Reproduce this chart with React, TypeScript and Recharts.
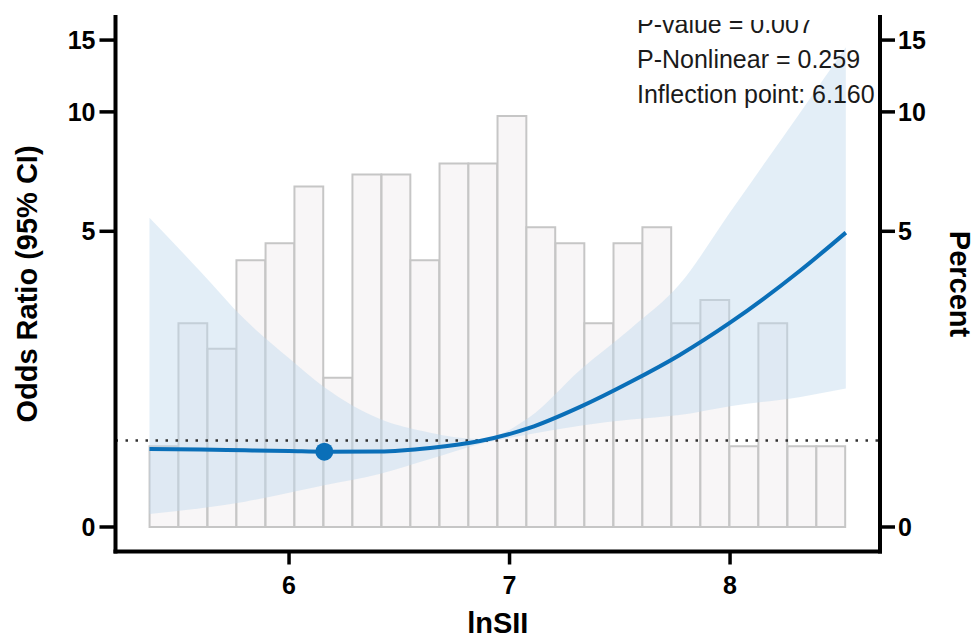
import { ComposedChart, Bar, Area, Line, XAxis, YAxis, ReferenceLine, ReferenceDot, Label } from 'recharts'

// histogram of lnSII (bin midpoints) and share of participants in each bin, %
const BIN_MID = [
  5.433, 5.564, 5.696, 5.827, 5.959, 6.09, 6.222, 6.353, 6.485, 6.616, 6.748, 6.879,
  7.011, 7.142, 7.274, 7.405, 7.537, 7.668, 7.8, 7.931, 8.063, 8.194, 8.326, 8.457,
]
const PERCENT = [
  0.93, 2.79, 2.33, 4.19, 4.65, 6.51, 1.86, 6.98, 6.98, 4.19, 7.44, 7.44,
  9.77, 5.12, 4.65, 2.79, 4.65, 5.12, 2.79, 3.26, 0.93, 2.79, 0.93, 0.93,
]

// restricted cubic spline: OR with 95% CI
const CURVE_X = [5.367, 5.6, 5.8, 6.0, 6.16, 6.41, 6.64, 6.866, 7.09, 7.32, 7.55, 7.77, 8.0, 8.32, 8.525]
const OR = [0.897, 0.89, 0.88, 0.872, 0.864, 0.866, 0.909, 0.995, 1.16, 1.44, 1.8, 2.22, 2.8, 3.94, 4.96]
const LOWER = [0.145, 0.209, 0.283, 0.384, 0.469, 0.6, 0.776, 0.958, 1.08, 1.19, 1.27, 1.33, 1.45, 1.58, 1.7]
const UPPER = [5.42, 3.9, 2.86, 2.17, 1.72, 1.28, 1.1, 1.02, 1.3, 1.98, 2.69, 3.6, 5.6, 10.0, 14.4]

const INFLECTION_X = 6.16
const INFLECTION_OR = 0.864

const X_TICKS = [6, 7, 8]
const Y_TICKS = [0, 5, 10, 15]

// pseudo-log axis (sigma = 1), like scales::pseudo_log_trans
const tr = (v: number) => Math.asinh(v / 2)
const untr = (t: number) => 2 * Math.sinh(t)

const X_DOMAIN: [number, number] = [5.213, 8.68]
const Y_DOMAIN: [number, number] = [-0.1365, 2.841]

const FONT = '"Liberation Sans", Arial, Helvetica, sans-serif'
const BLUE = '#0a6fb8'

const bins = BIN_MID.map((x, i) => ({ x, pct: PERCENT[i] }))
const curve = CURVE_X.map((x, i) => ({ x, or: OR[i], lo: LOWER[i], hi: UPPER[i] }))

const axisLine = { stroke: '#000', strokeWidth: 4, strokeLinecap: 'square' as const }
const tickLine = { stroke: '#000', strokeWidth: 3.5 }
const tickFont = { fill: '#000', fontSize: 25, fontWeight: 700, fontFamily: FONT }
const titleStyle = { fill: '#000', fontSize: 29, fontWeight: 700, fontFamily: FONT }

export default function App() {
  return (
    <div style={{ position: 'absolute', left: 0, top: 0, width: 972, height: 637, background: '#fff' }}>
      <ComposedChart
        width={972}
        height={637}
        data={bins}
        barCategoryGap={0}
        barGap={0}
        margin={{ top: 17, right: 32, bottom: 55.5, left: 55.5 }}
      >
        <XAxis
          dataKey="x"
          type="number"
          domain={X_DOMAIN}
          allowDataOverflow
          ticks={X_TICKS}
          interval={0}
          height={30}
          tickSize={13}
          tickMargin={12}
          axisLine={axisLine}
          tickLine={tickLine}
          tick={tickFont}
        >
          <Label
            content={() => (
              <text x={497.75} y={633} textAnchor="middle" style={titleStyle}>
                lnSII
              </text>
            )}
          />
        </XAxis>
        {/* own axis for the histogram so the bar width comes from the bin spacing */}
        <XAxis xAxisId="bins" dataKey="x" type="number" domain={X_DOMAIN} allowDataOverflow hide />
        <XAxis
          xAxisId="top"
          orientation="top"
          type="number"
          domain={X_DOMAIN}
          allowDataOverflow
          height={0}
          tick={false}
          tickLine={false}
          axisLine={axisLine}
        />
        <YAxis
          yAxisId="or"
          type="number"
          domain={Y_DOMAIN}
          allowDataOverflow
          ticks={Y_TICKS.map(tr)}
          interval={0}
          tickFormatter={(t: number) => String(Math.round(untr(t)))}
          width={60}
          tickSize={16}
          tickMargin={4}
          axisLine={axisLine}
          tickLine={tickLine}
          tick={tickFont}
        >
          <Label
            content={() => (
              <text x={37} y={284} textAnchor="middle" transform="rotate(-90 37 284)" style={titleStyle}>
                Odds Ratio (95% CI)
              </text>
            )}
          />
        </YAxis>
        <YAxis
          yAxisId="pct"
          orientation="right"
          type="number"
          domain={Y_DOMAIN}
          allowDataOverflow
          ticks={Y_TICKS.map(tr)}
          interval={0}
          tickFormatter={(t: number) => String(Math.round(untr(t)))}
          width={60}
          tickSize={15}
          tickMargin={3}
          axisLine={axisLine}
          tickLine={tickLine}
          tick={tickFont}
        >
          <Label
            content={() => (
              <text x={950} y={284} textAnchor="middle" transform="rotate(90 950 284)" style={titleStyle}>
                Percent
              </text>
            )}
          />
        </YAxis>

        <Bar
          xAxisId="bins"
          yAxisId="pct"
          dataKey={(d: { pct: number }) => tr(d.pct)}
          barSize={28.8}
          fill="#f8f6f7"
          stroke="#c6c6c6"
          strokeWidth={2}
          isAnimationActive={false}
          zIndex={50}
        />
        <Area
          yAxisId="or"
          data={curve}
          dataKey={(d: { lo: number; hi: number }) => [tr(d.lo), tr(d.hi)]}
          type="monotone"
          stroke="none"
          fill="#c2daee"
          fillOpacity={0.45}
          isAnimationActive={false}
          zIndex={100}
        />
        <ReferenceLine
          yAxisId="or"
          y={tr(1)}
          stroke="#333"
          strokeWidth={2.5}
          strokeDasharray="2.5 7.5"
          zIndex={150}
        />
        <Line
          yAxisId="or"
          data={curve}
          dataKey={(d: { or: number }) => tr(d.or)}
          type="monotone"
          stroke={BLUE}
          strokeWidth={4}
          dot={false}
          activeDot={false}
          isAnimationActive={false}
          zIndex={400}
        />
        <ReferenceDot
          yAxisId="or"
          x={INFLECTION_X}
          y={tr(INFLECTION_OR)}
          r={9}
          fill={BLUE}
          stroke="none"
          zIndex={450}
        />
      </ComposedChart>

      {/* statistics text, clipped by the panel border like in the original */}
      <div style={{ position: 'absolute', left: 117, top: 19.5, width: 761, height: 110, overflow: 'hidden' }}>
        <svg width={761} height={110}>
          <g style={{ fontFamily: FONT, fontSize: 25, fill: '#1a1a1a' }}>
            <text x={520} y={13.2}>P-value = 0.007</text>
            <text x={520} y={48.2}>P-Nonlinear = 0.259</text>
            <text x={520} y={83.2}>Inflection point: 6.160</text>
          </g>
        </svg>
      </div>
    </div>
  )
}
